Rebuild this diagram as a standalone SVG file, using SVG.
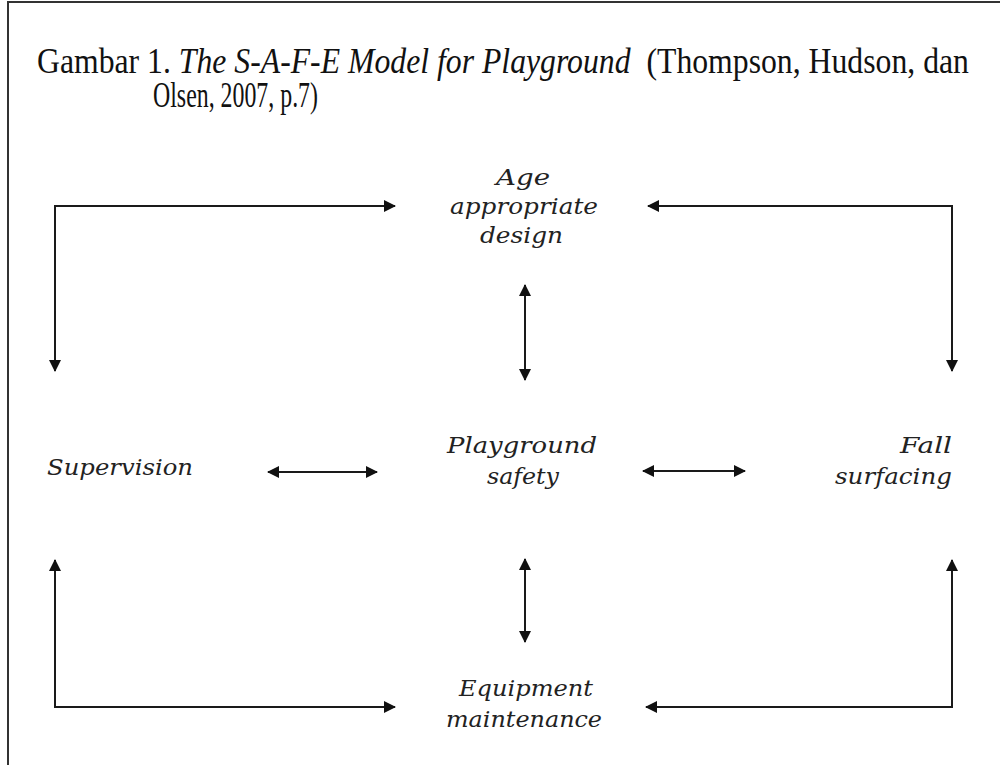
<svg xmlns="http://www.w3.org/2000/svg" width="1000" height="765" viewBox="0 0 1000 765">
<defs>
<marker id="ah" viewBox="0 0 12 12" refX="11" refY="6" markerWidth="12" markerHeight="12" markerUnits="userSpaceOnUse" orient="auto-start-reverse">
<path d="M0,0 L12,6 L0,12 Z" fill="#111"/>
</marker>
<style>
.t{font-family:"Liberation Serif","Times New Roman",serif;font-size:36px;fill:#111}
.l{font-family:"DejaVu Serif","Liberation Serif",serif;font-style:italic;font-size:22px;fill:#222}
.c{fill:none;stroke:#1a1a1a;stroke-width:2}
</style>
</defs>
<rect width="1000" height="765" fill="#fff"/>
<path d="M8,765 V2 H1000" fill="none" stroke="#333" stroke-width="2"/>
<g id="title">
<text class="t" x="37" y="73" textLength="932" lengthAdjust="spacingAndGlyphs">Gambar 1. <tspan font-style="italic">The S-A-F-E Model for Playground</tspan>&#160; (Thompson, Hudson, dan</text>
<text class="t" x="153" y="107" textLength="165" lengthAdjust="spacingAndGlyphs">Olsen, 2007, p.7)</text>
</g>
<g id="age">
<text class="l" x="496" y="185" textLength="54" lengthAdjust="spacingAndGlyphs">Age</text>
<text class="l" x="450" y="214" textLength="148" lengthAdjust="spacingAndGlyphs">appropriate</text>
<text class="l" x="480" y="243" textLength="83" lengthAdjust="spacingAndGlyphs">design</text>
</g>
<g id="playground">
<text class="l" x="447" y="453" textLength="150" lengthAdjust="spacingAndGlyphs">Playground</text>
<text class="l" x="487" y="484" textLength="72" lengthAdjust="spacingAndGlyphs">safety</text>
</g>
<g id="supervision">
<text class="l" x="47" y="475" textLength="146" lengthAdjust="spacingAndGlyphs">Supervision</text>
</g>
<g id="fall">
<text class="l" x="900" y="453" textLength="52" lengthAdjust="spacingAndGlyphs">Fall</text>
<text class="l" x="835" y="484" textLength="117" lengthAdjust="spacingAndGlyphs">surfacing</text>
</g>
<g id="equipment">
<text class="l" x="459" y="696" textLength="134" lengthAdjust="spacingAndGlyphs">Equipment</text>
<text class="l" x="446" y="727" textLength="156" lengthAdjust="spacingAndGlyphs">maintenance</text>
</g>
<g id="connectors">
<path class="c" d="M55,371 V206 H395" marker-start="url(#ah)" marker-end="url(#ah)"/>
<path class="c" d="M952,371 V206 H648" marker-start="url(#ah)" marker-end="url(#ah)"/>
<path class="c" d="M525,285 V380" marker-start="url(#ah)" marker-end="url(#ah)"/>
<path class="c" d="M268,472 H377" marker-start="url(#ah)" marker-end="url(#ah)"/>
<path class="c" d="M643,471 H745" marker-start="url(#ah)" marker-end="url(#ah)"/>
<path class="c" d="M525,559 V642" marker-start="url(#ah)" marker-end="url(#ah)"/>
<path class="c" d="M55,560 V707 H395" marker-start="url(#ah)" marker-end="url(#ah)"/>
<path class="c" d="M952,560 V707 H646" marker-start="url(#ah)" marker-end="url(#ah)"/>
</g>
</svg>
